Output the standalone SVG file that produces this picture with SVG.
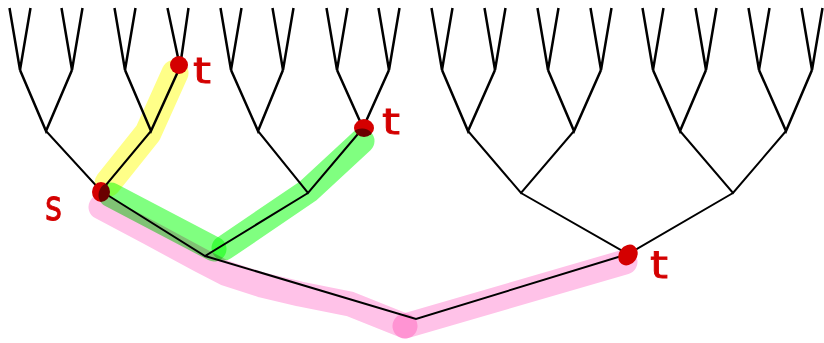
<svg xmlns="http://www.w3.org/2000/svg" width="824" height="343" viewBox="0 0 824 343">
<style>
.e{fill:none;stroke:#000;stroke-linejoin:miter;stroke-linecap:butt}
.up{stroke-width:2.5}
.lo{stroke-width:2}
.hl{fill:none;stroke-linecap:round;stroke-linejoin:round;mix-blend-mode:multiply}
.dot{fill:#d40000}
.lbl{fill:#d40000;font-family:"DejaVu Sans",sans-serif;stroke:#d40000;stroke-width:0.8}
</style>
<rect width="824" height="343" fill="#fff"/>
<g id="connectors">
<path class="e up" d="M9.5,8 L20,70 L30.5,8 M61.5,8 L72,70 L82.5,8 M114.5,8 L125,70 L135.5,8 M167.5,8 L180,67 L188.5,8 M220.5,8 L231,70 L241.5,8 M272.5,8 L283,70 L293.5,8 M326.5,8 L337,70 L347.5,8 M378.5,8 L389,70 L399.5,8 M431.5,8 L442,70 L452.5,8 M484.5,8 L495,70 L505.5,8 M537.5,8 L548,70 L558.5,8 M590.5,8 L601,70 L611.5,8 M642.5,8 L653,70 L663.5,8 M695.5,8 L706,70 L716.5,8 M748.5,8 L759,70 L769.5,8 M801.5,8 L812,70 L822.5,8"/>
<path class="e up" d="M20,70 L46,131 L72,70 M125,70 L151,131 L180,67 M231,70 L258,131 L283,70 M337,70 L363,128 L389,70 M442,70 L468,131 L495,70 M548,70 L574,131 L601,70 M653,70 L680,131 L706,70 M759,70 L786,131 L812,70"/>
<path class="e lo" d="M46,131 L101,191 L151,131 M258,131 L308,193 L363,128 M468,131 L521,193 L574,131 M680,131 L733,193 L786,131"/>
<path class="e lo" d="M101,191 L205,256 L308,193 M521,193 L628,254 L733,193 M205,256 L416,319 L628,254"/>
</g>
<g id="node-s">
<ellipse class="dot" cx="101" cy="192" rx="9" ry="10"/>
<text class="lbl" x="45" y="220" font-size="42" textLength="17" lengthAdjust="spacingAndGlyphs">s</text>
</g>
<g id="node-t1">
<ellipse class="dot" cx="179" cy="65" rx="9" ry="9"/>
<text class="lbl" x="193" y="83" font-size="36" textLength="18" lengthAdjust="spacingAndGlyphs">t</text>
</g>
<g id="node-t2">
<ellipse class="dot" cx="364" cy="128" rx="10" ry="9"/>
<text class="lbl" x="382" y="134" font-size="36" textLength="18" lengthAdjust="spacingAndGlyphs">t</text>
</g>
<g id="node-t3">
<ellipse class="dot" cx="628" cy="255" rx="9" ry="11" transform="rotate(35 628 255)"/>
<text class="lbl" x="650" y="278" font-size="38" textLength="18" lengthAdjust="spacingAndGlyphs">t</text>
</g>
<g id="highlights">
<path class="hl" stroke="#ffff88" stroke-width="27" d="M175,73 L148,133 L108,183"/>
<path class="hl" stroke="#ffc2e8" stroke-width="25" d="M101,207 L150,233 L200,260 L225,273 L262,285 L300,294 L350,304 L380,316 L405,326"/>
<path class="hl" stroke="#ffc2e8" stroke-width="25" d="M405,326 L625,262"/>
<path class="hl" stroke="#80ff80" stroke-width="25" d="M111,195 L214,249"/>
<path class="hl" stroke="#80ff80" stroke-width="25" d="M224,248 L308,191 L362,141"/>
</g>
</svg>
